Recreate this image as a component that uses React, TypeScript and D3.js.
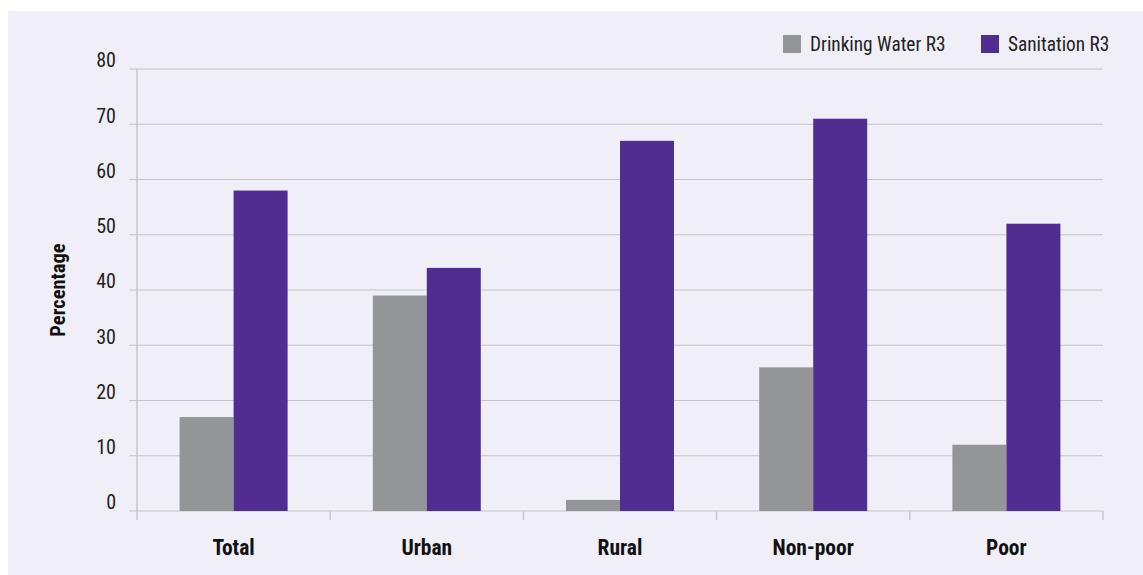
import React from "react";
import * as d3 from "d3";

const categories = ["Total", "Urban", "Rural", "Non-poor", "Poor"];
const seriesNames = ["Drinking Water R3", "Sanitation R3"];
const drinkingWater = [17, 39, 2, 26, 12];
const sanitation = [58, 44, 67, 71, 52];
const yTicks = [0, 10, 20, 30, 40, 50, 60, 70, 80];
const colors = ["#939598", "#522d91"];

const W = 1143;
const H = 575;
const FONT = "'Liberation Sans Narrow', 'Roboto Condensed', 'Arial Narrow', Roboto, sans-serif";

export default function App() {
  const left = 137;
  const right = 1103;
  const top = 69;
  const bottom = 511;

  const x0 = d3.scaleBand<string>().domain(categories).range([left, right]).padding(0);
  const x1 = d3.scaleBand<string>().domain(seriesNames).range([0, 108]).padding(0);
  const y = d3.scaleLinear().domain([0, 80]).range([bottom, top]);
  const series = [drinkingWater, sanitation];

  const boundaries = [...categories.map((c) => x0(c)!), right];

  return (
    <svg width={W} height={H} style={{ position: "absolute", left: 0, top: 0 }}>
      <rect x={8} y={11} width={W - 8} height={H - 11} fill="#f0eef7" />
      {yTicks.map((t) => (
        <g key={t}>
          <line x1={129} x2={right} y1={y(t)} y2={y(t)} stroke="#c6c4ca" strokeWidth={1.2} />
          <text x={116} y={y(t) - 7} textAnchor="end" dominantBaseline="middle" fontFamily={FONT} fontSize={20} fill="#222">
            {t}
          </text>
        </g>
      ))}
      <line x1={left} x2={left} y1={top} y2={bottom + 9} stroke="#c6c4ca" strokeWidth={1.4} />
      {boundaries.slice(1).map((b, i) => (
        <line key={i} x1={b} x2={b} y1={bottom} y2={bottom + 9} stroke="#c6c4ca" strokeWidth={1.4} />
      ))}
      {categories.map((c, i) => {
        const gx = x0(c)! + x0.bandwidth() / 2 - 54;
        return (
          <g key={c}>
            {series.map((s, j) => (
              <rect
                key={j}
                x={gx + x1(seriesNames[j])!}
                y={y(s[i])}
                width={x1.bandwidth()}
                height={bottom - y(s[i])}
                fill={colors[j]}
              />
            ))}
            <text x={x0(c)! + x0.bandwidth() / 2} y={549} textAnchor="middle" dominantBaseline="middle" fontFamily={FONT} fontWeight="bold" fontSize={21.5} fill="#111">
              {c}
            </text>
          </g>
        );
      })}
      <text
        transform={`translate(60,290) rotate(-90)`}
        textAnchor="middle"
        dominantBaseline="middle"
        fontFamily={FONT}
        fontWeight="bold"
        fontSize={20.5}
        fill="#111"
      >
        Percentage
      </text>
      {[783, 981].map((lx, j) => (
        <g key={j}>
          <rect x={lx} y={35} width={18} height={18} fill={colors[j]} />
          <text x={lx + 27} y={46} dominantBaseline="middle" fontFamily={FONT} fontSize={19.3} fill="#222">
            {seriesNames[j]}
          </text>
        </g>
      ))}
    </svg>
  );
}
